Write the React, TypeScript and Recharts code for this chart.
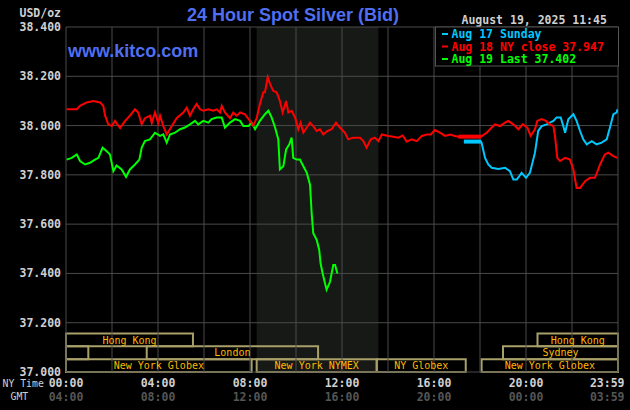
import React from 'react'
import { LineChart, Line, XAxis, YAxis, ReferenceArea, ReferenceLine } from 'recharts'

// Aug 18 NY close (red)
const redTimes = [0.03, 0.47, 0.61, 0.9, 1.19, 1.48, 1.62, 1.7, 1.84, 1.99, 2.13, 2.35, 2.57, 2.78, 3.0, 3.14, 3.29, 3.43, 3.65, 3.73, 3.87, 4.01, 4.09, 4.23, 4.38, 4.6, 4.81, 5.1, 5.25, 5.39, 5.53, 5.68, 5.83, 5.97, 6.19, 6.4, 6.55, 6.7, 6.77, 6.91, 7.13, 7.27, 7.42, 7.57, 7.78, 8.0, 8.14, 8.29, 8.43, 8.58, 8.65, 8.77, 8.87, 9.01, 9.16, 9.3, 9.42, 9.57, 9.67, 9.81, 9.96, 10.1, 10.2, 10.32, 10.47, 10.61, 10.75, 10.9, 11.04, 11.19, 11.36, 11.55, 11.74, 11.91, 12.13, 12.27, 12.49, 12.64, 12.78, 12.93, 13.07, 13.25, 13.43, 13.58, 13.73, 14.01, 14.23, 14.45, 14.64, 14.81, 15.03, 15.25, 15.47, 15.68, 15.86, 16.04, 16.26, 16.48, 16.7, 16.91, 17.06, 18.04, 18.29, 18.51, 18.65, 18.87, 19.09, 19.23, 19.45, 19.67, 19.86, 20.06, 20.2, 20.39, 20.49, 20.68, 20.87, 21.04, 21.19, 21.26, 21.36, 21.48, 21.7, 21.91, 22.06, 22.2, 22.35, 22.57, 22.78, 23.0, 23.22, 23.43, 23.58, 23.8, 23.98]
const redValues = [38.066, 38.066, 38.08, 38.094, 38.1, 38.094, 38.08, 38.04, 38.005, 37.998, 38.019, 37.99, 38.019, 38.04, 38.066, 38.053, 38.005, 38.03, 38.04, 38.01, 38.053, 38.01, 38.04, 37.998, 37.964, 37.998, 38.03, 38.053, 38.073, 38.04, 38.066, 38.087, 38.066, 38.06, 38.066, 38.06, 38.066, 38.053, 38.08, 38.053, 38.03, 38.053, 38.04, 38.053, 38.046, 38.019, 38.0, 38.03, 38.087, 38.135, 38.135, 38.196, 38.169, 38.141, 38.135, 38.1, 38.053, 38.1, 38.053, 38.06, 38.033, 37.985, 38.012, 37.971, 37.992, 38.012, 37.998, 37.978, 37.985, 37.964, 37.978, 37.985, 38.012, 37.992, 37.971, 37.944, 37.951, 37.951, 37.951, 37.937, 37.91, 37.944, 37.951, 37.937, 37.964, 37.958, 37.955, 37.951, 37.96, 37.935, 37.944, 37.937, 37.958, 37.964, 37.964, 37.982, 37.971, 37.958, 37.964, 37.958, 37.955, 37.955, 37.971, 37.992, 38.005, 37.998, 38.012, 38.019, 38.005, 37.985, 38.005, 37.992, 37.958, 37.985, 38.019, 38.026, 38.019, 38.005, 37.998, 37.958, 37.869, 37.856, 37.869, 37.862, 37.822, 37.747, 37.747, 37.774, 37.788, 37.788, 37.842, 37.883, 37.89, 37.876, 37.869]
const redClosedTimes = [17.06, 18.04]
const redClosedValues = [37.955, 37.955]

// Aug 19 last (green)
const greenTimes = [0.03, 0.25, 0.47, 0.61, 0.83, 1.04, 1.26, 1.41, 1.59, 1.77, 1.91, 2.06, 2.2, 2.42, 2.61, 2.78, 3.0, 3.19, 3.29, 3.43, 3.65, 3.87, 4.09, 4.23, 4.38, 4.52, 4.74, 4.96, 5.17, 5.39, 5.61, 5.75, 5.97, 6.19, 6.33, 6.55, 6.77, 6.91, 7.13, 7.35, 7.57, 7.71, 7.93, 8.07, 8.22, 8.43, 8.65, 8.8, 8.94, 9.09, 9.23, 9.3, 9.45, 9.57, 9.71, 9.81, 9.88, 10.03, 10.17, 10.32, 10.47, 10.61, 10.68, 10.75, 10.9, 11.01, 11.07, 11.16, 11.26, 11.33, 11.48, 11.62, 11.7, 11.8]
const greenValues = [37.862, 37.869, 37.883, 37.856, 37.842, 37.849, 37.862, 37.869, 37.91, 37.896, 37.883, 37.815, 37.838, 37.822, 37.792, 37.822, 37.842, 37.862, 37.91, 37.937, 37.944, 37.971, 37.958, 37.964, 37.931, 37.964, 37.971, 37.985, 37.992, 38.005, 38.019, 38.005, 38.019, 38.012, 38.026, 38.033, 38.033, 37.992, 38.012, 38.026, 38.019, 37.998, 37.998, 38.012, 37.985, 38.019, 38.046, 38.06, 38.033, 37.992, 37.944, 37.822, 37.835, 37.903, 37.924, 37.951, 37.869, 37.862, 37.862, 37.835, 37.808, 37.76, 37.645, 37.563, 37.536, 37.495, 37.44, 37.4, 37.36, 37.334, 37.366, 37.434, 37.434, 37.4]

// Aug 17 Sunday (cyan)
const cyanTimes = [17.3, 18.04, 18.07, 18.22, 18.36, 18.51, 18.8, 19.09, 19.3, 19.45, 19.6, 19.81, 20.0, 20.17, 20.39, 20.53, 20.68, 20.9, 21.04, 21.19, 21.33, 21.51, 21.62, 21.7, 21.84, 22.06, 22.2, 22.35, 22.49, 22.64, 22.86, 23.07, 23.29, 23.51, 23.65, 23.8, 23.94, 23.98]
const cyanValues = [37.935, 37.935, 37.93, 37.869, 37.842, 37.829, 37.824, 37.829, 37.815, 37.781, 37.781, 37.808, 37.788, 37.808, 37.89, 37.978, 37.998, 38.005, 38.012, 38.019, 38.033, 38.033, 37.998, 37.971, 38.026, 38.046, 38.019, 37.978, 37.944, 37.924, 37.937, 37.924, 37.931, 37.944, 37.992, 38.046, 38.053, 38.066]
const cyanClosedTimes = [17.3, 18.04]
const cyanClosedValues = [37.935, 37.935]

// trading sessions: row 0 top, row 2 bottom
const sessionNames = ['Hong Kong', 'Hong Kong', '', 'London', 'Sydney', 'New York Globex', 'New York NYMEX', 'NY Globex', 'New York Globex']
const sessionRows = [0, 0, 1, 1, 1, 2, 2, 2, 2]
const sessionStarts = [0, 20.5, 0, 3.51, 19.0, 0, 8.29, 13.51, 18.07]
const sessionEnds = [5.52, 24, 0.97, 10.96, 24, 8.07, 13.51, 17.38, 24]
const rowBottoms = [37.104, 37.052, 37.0]
const rowHeight = 0.052

const nymexShade = [8.29, 13.58]

const xTicks = [0, 2, 4, 6, 8, 10, 12, 14, 16, 18, 20, 22, 24]
const labelHours = [0, 4, 8, 12, 16, 20, 24]
const nyLabels = ['00:00', '04:00', '08:00', '12:00', '16:00', '20:00', '23:59']
const gmtLabels = ['04:00', '08:00', '12:00', '16:00', '20:00', '00:00', '03:59']
const yTicks = [37.0, 37.2, 37.4, 37.6, 37.8, 38.0, 38.2, 38.4]

const legendLabels = ['Aug 17 Sunday', 'Aug 18 NY close 37.947', 'Aug 19 Last 37.402']
const legendColors = ['#00c8ff', '#ff0000', '#00ff00']

const MONO = "'DejaVu Sans Mono', 'Liberation Mono', monospace"
const SANS = "'Liberation Sans', Arial, sans-serif"
const GRID = '#4a4a4a'

const rows = (t: number[], v: number[]) => t.map((h, i) => ({ t: h, v: v[i] }))

const XTick = (props: any) => {
  const { x, payload } = props
  const i = labelHours.indexOf(payload.value)
  if (i < 0) return <g />
  const last = i === labelHours.length - 1
  const tx = last ? x + 6.5 : x
  const anchor = last ? 'end' : 'middle'
  return (
    <g fontFamily={MONO} fontSize={11.5} fontWeight="bold">
      <text x={tx} y={387} textAnchor={anchor} fill="#d0d0d0">{nyLabels[i]}</text>
      <text x={tx} y={401} textAnchor={anchor} fill="#555555">{gmtLabels[i]}</text>
    </g>
  )
}

const YTick = (props: any) => (
  <text x={61} y={props.y + 4} textAnchor="end" fill="#d0d0d0" fontFamily={MONO} fontSize={11.5} fontWeight="bold">
    {Number(props.payload.value).toFixed(3)}
  </text>
)

export default function App() {
  return (
    <div style={{ position: 'absolute', left: 0, top: 0, width: 630, height: 410, background: '#000', overflow: 'hidden' }}>
      <LineChart width={630} height={410} margin={{ top: 27, right: 12, bottom: 8, left: 0 }}>
        <XAxis dataKey="t" type="number" domain={[0, 24]} ticks={xTicks} axisLine={false} tickLine={false} tick={<XTick />} height={30} allowDataOverflow />
        <YAxis type="number" domain={[37, 38.4]} ticks={yTicks} axisLine={false} tickLine={false} tick={<YTick />} width={66} allowDataOverflow />
        <ReferenceArea x1={nymexShade[0]} x2={nymexShade[1]} y1={37} y2={38.4} fill="#161916" fillOpacity={1} stroke="none" />
        {xTicks.map((h) => (
          <ReferenceLine key={'x' + h} x={h} stroke={GRID} strokeWidth={1} />
        ))}
        {yTicks.map((v) => (
          <ReferenceLine key={'y' + v} y={v} stroke={GRID} strokeWidth={1} />
        ))}
        {sessionNames.map((name, i) => (
          <ReferenceArea
            key={'s' + i}
            x1={sessionStarts[i]}
            x2={sessionEnds[i]}
            y1={rowBottoms[sessionRows[i]]}
            y2={rowBottoms[sessionRows[i]] + rowHeight}
            fill="none"
            fillOpacity={0}
            stroke="#a8a068"
            strokeWidth={2}
            label={{ value: name, position: 'center', fill: '#ffb900', fontSize: 10, fontFamily: MONO }}
          />
        ))}
        <Line data={rows(greenTimes, greenValues)} dataKey="v" stroke="#00ff00" strokeWidth={2} dot={false} isAnimationActive={false} />
        <Line data={rows(cyanTimes, cyanValues)} dataKey="v" stroke="#00c8ff" strokeWidth={2} dot={false} isAnimationActive={false} />
        <Line data={rows(cyanClosedTimes, cyanClosedValues)} dataKey="v" stroke="#00c8ff" strokeWidth={4} dot={false} isAnimationActive={false} />
        <Line data={rows(redTimes, redValues)} dataKey="v" stroke="#ff0000" strokeWidth={2} dot={false} isAnimationActive={false} />
        <Line data={rows(redClosedTimes, redClosedValues)} dataKey="v" stroke="#ff0000" strokeWidth={4} dot={false} isAnimationActive={false} />
      </LineChart>
      <svg width={630} height={410} style={{ position: 'absolute', left: 0, top: 0 }}>
        <text x={61} y={17} textAnchor="end" fill="#d0d0d0" fontFamily={MONO} fontSize={11.5} fontWeight="bold">USD/oz</text>
        <text x={293} y={21} textAnchor="middle" fill="#4f6ff0" fontFamily={SANS} fontSize={18} fontWeight="bold">24 Hour Spot Silver (Bid)</text>
        <text x={68} y={57} fill="#4f6ff0" fontFamily={SANS} fontSize={18} fontWeight="bold">www.kitco.com</text>
        <text x={461.5} y={23.5} fill="#d0d0d0" fontFamily={MONO} fontSize={11.5} fontWeight="bold">August 19, 2025 11:45</text>
        <rect x={435.5} y={27} width={183} height={39} fill="#000" stroke="#555" strokeWidth={1} />
        {legendLabels.map((label, i) => (
          <g key={label}>
            <line x1={442} x2={448} y1={34 + i * 12.5} y2={34 + i * 12.5} stroke={legendColors[i]} strokeWidth={2} />
            <text x={451.5} y={38.3 + i * 12.5} fill={legendColors[i]} fontFamily={MONO} fontSize={11.5} fontWeight="bold">{label}</text>
          </g>
        ))}
        <text x={2.5} y={387} fill="#d0d0d0" fontFamily={MONO} fontSize={9.8}>NY Time</text>
        <text x={10.5} y={400} fill="#d0d0d0" fontFamily={MONO} fontSize={9.8}>GMT</text>
      </svg>
    </div>
  )
}
